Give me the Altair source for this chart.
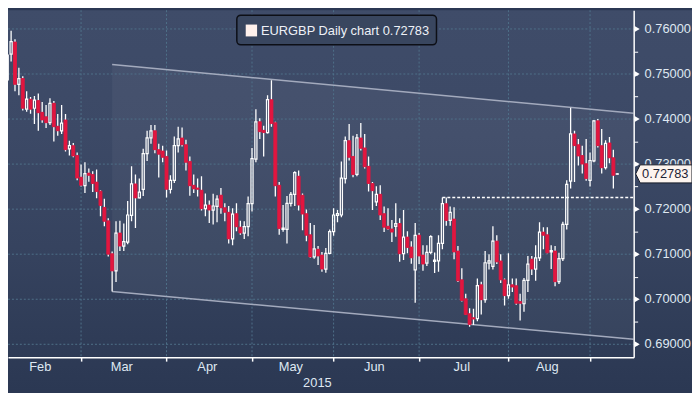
import altair as alt
import pandas as pd

# ---------------- data ----------------
opens = [0.7517, 0.7487, 0.7544, 0.7571, 0.7477, 0.7490, 0.7422, 0.7444, 0.7424, 0.7441,
         0.7415, 0.7405, 0.7392, 0.7435, 0.7384, 0.7374, 0.7398, 0.7334, 0.7341, 0.7319,
         0.7271, 0.7252, 0.7280, 0.7277, 0.7260, 0.7240, 0.7204, 0.7174, 0.7101, 0.7063,
         0.7147, 0.7118, 0.7127, 0.7186, 0.7256, 0.7225, 0.7244, 0.7323, 0.7358, 0.7374,
         0.7332, 0.7329, 0.7317, 0.7244, 0.7264, 0.7341, 0.7358, 0.7343, 0.7306, 0.7253,
         0.7247, 0.7242, 0.7201, 0.7209, 0.7198, 0.7206, 0.7231, 0.7203, 0.7193, 0.7134,
         0.7190, 0.7160, 0.7147, 0.7161, 0.7212, 0.7311, 0.7394, 0.7375, 0.7370, 0.7443,
         0.7392, 0.7253, 0.7155, 0.7155, 0.7213, 0.7233, 0.7273, 0.7231, 0.7190, 0.7143,
         0.7094, 0.7111, 0.7098, 0.7067, 0.7102, 0.7150, 0.7186, 0.7187, 0.7268, 0.7352,
         0.7317, 0.7277, 0.7358, 0.7336, 0.7295, 0.7257, 0.7216, 0.7233, 0.7190, 0.7162,
         0.7156, 0.7162, 0.7168, 0.7101, 0.7138, 0.7116, 0.7065, 0.7142, 0.7098, 0.7080,
         0.7104, 0.7084, 0.7085, 0.7124, 0.7212, 0.7175, 0.7178, 0.7107, 0.7043, 0.7001,
         0.6968, 0.6959, 0.6957, 0.7032, 0.6999, 0.7080, 0.7073, 0.7129, 0.7085, 0.7043,
         0.7008, 0.7032, 0.7030, 0.6995, 0.6990, 0.7042, 0.7089, 0.7067, 0.7092, 0.7149,
         0.7143, 0.7105, 0.7107, 0.7039, 0.7090, 0.7166, 0.7262, 0.7367, 0.7343, 0.7319,
         0.7301, 0.7264, 0.7307, 0.7396, 0.7341, 0.7292, 0.7347, 0.7314, 0.72775]
highs = [0.7528, 0.7568, 0.7596, 0.7577, 0.7514, 0.7495, 0.7462, 0.7449, 0.7451, 0.7457,
         0.7438, 0.7431, 0.7446, 0.7440, 0.7411, 0.7431, 0.7411, 0.7352, 0.7347, 0.7326,
         0.7299, 0.7304, 0.7290, 0.7284, 0.7288, 0.7242, 0.7223, 0.7180, 0.7106, 0.7173,
         0.7174, 0.7168, 0.7218, 0.7295, 0.7277, 0.7268, 0.7334, 0.7374, 0.7387, 0.7387,
         0.7345, 0.7341, 0.7330, 0.7275, 0.7361, 0.7383, 0.7381, 0.7354, 0.7317, 0.7277,
         0.7268, 0.7273, 0.7235, 0.7219, 0.7234, 0.7231, 0.7247, 0.7213, 0.7207, 0.7202,
         0.7213, 0.7174, 0.7173, 0.7228, 0.7336, 0.7422, 0.7402, 0.7385, 0.7453, 0.7486,
         0.7394, 0.7260, 0.7209, 0.7229, 0.7238, 0.7284, 0.7286, 0.7235, 0.7199, 0.7169,
         0.7165, 0.7118, 0.7105, 0.7114, 0.7155, 0.7202, 0.7198, 0.7306, 0.7361, 0.7389,
         0.7363, 0.7367, 0.7391, 0.7367, 0.7317, 0.7260, 0.7251, 0.7253, 0.7206, 0.7202,
         0.7176, 0.7213, 0.7180, 0.7198, 0.7151, 0.7129, 0.7169, 0.7147, 0.7120, 0.7120,
         0.7142, 0.7104, 0.7142, 0.7226, 0.7226, 0.7206, 0.7204, 0.7118, 0.7069, 0.7012,
         0.6980, 0.6979, 0.7046, 0.7039, 0.7107, 0.7100, 0.7162, 0.7142, 0.7100, 0.7046,
         0.7102, 0.7046, 0.7046, 0.7012, 0.7047, 0.7096, 0.7096, 0.7120, 0.7171, 0.7160,
         0.7160, 0.7120, 0.7118, 0.7103, 0.7172, 0.7264, 0.7425, 0.7374, 0.7356, 0.7341,
         0.7356, 0.7326, 0.7398, 0.7400, 0.7378, 0.7353, 0.7360, 0.7332, 0.72795]
lows = [0.7492, 0.7484, 0.7528, 0.7462, 0.7453, 0.7419, 0.7416, 0.7412, 0.7389, 0.7374,
        0.7392, 0.7380, 0.7387, 0.7350, 0.7363, 0.7367, 0.7328, 0.7319, 0.7315, 0.7264,
        0.7250, 0.7236, 0.7261, 0.7238, 0.7224, 0.7184, 0.7162, 0.7095, 0.7017, 0.7038,
        0.7107, 0.7107, 0.7122, 0.7173, 0.7158, 0.7224, 0.7229, 0.7307, 0.7345, 0.7324,
        0.7270, 0.7304, 0.7226, 0.7235, 0.7258, 0.7326, 0.7339, 0.7286, 0.7230, 0.7236,
        0.7228, 0.7197, 0.7184, 0.7169, 0.7166, 0.7171, 0.7190, 0.7173, 0.7124, 0.7120,
        0.7151, 0.7143, 0.7134, 0.7140, 0.7195, 0.7304, 0.7356, 0.7317, 0.7368, 0.7383,
        0.7228, 0.7143, 0.7150, 0.7124, 0.7206, 0.7207, 0.7197, 0.7153, 0.7129, 0.7092,
        0.7090, 0.7076, 0.7061, 0.7059, 0.7100, 0.7141, 0.7171, 0.7182, 0.7257, 0.7308,
        0.7271, 0.7273, 0.7330, 0.7290, 0.7239, 0.7198, 0.7207, 0.7176, 0.7149, 0.7154,
        0.7127, 0.7139, 0.7083, 0.7087, 0.7102, 0.7079, 0.6992, 0.7078, 0.7063, 0.7074,
        0.7100, 0.7058, 0.7061, 0.7111, 0.7163, 0.7163, 0.7089, 0.7038, 0.6995, 0.6965,
        0.6939, 0.6943, 0.6951, 0.6966, 0.6992, 0.7066, 0.7066, 0.7078, 0.7036, 0.6986,
        0.7001, 0.7016, 0.6988, 0.6953, 0.6972, 0.7016, 0.7054, 0.7041, 0.7085, 0.7111,
        0.7102, 0.7067, 0.7029, 0.7034, 0.7085, 0.7155, 0.7246, 0.7260, 0.7297, 0.7279,
        0.7263, 0.7250, 0.7304, 0.7337, 0.7279, 0.7288, 0.7302, 0.7246, 0.72765]
closes = [0.7498, 0.7542, 0.7572, 0.7477, 0.7490, 0.7424, 0.7444, 0.7422, 0.7442, 0.7414,
          0.7398, 0.7392, 0.7435, 0.7383, 0.7374, 0.7391, 0.7332, 0.7341, 0.7318, 0.7269,
          0.7253, 0.7279, 0.7275, 0.7257, 0.7239, 0.7208, 0.7173, 0.7100, 0.7063, 0.7147,
          0.7118, 0.7128, 0.7187, 0.7256, 0.7225, 0.7238, 0.7323, 0.7358, 0.7374, 0.7332,
          0.7322, 0.7315, 0.7244, 0.7264, 0.7341, 0.7356, 0.7343, 0.7304, 0.7252, 0.7245,
          0.7244, 0.7201, 0.7209, 0.7198, 0.7207, 0.7222, 0.7203, 0.7193, 0.7134, 0.7189,
          0.7161, 0.7147, 0.7161, 0.7212, 0.7312, 0.7394, 0.7372, 0.7370, 0.7443, 0.7390,
          0.7252, 0.7157, 0.7158, 0.7213, 0.7233, 0.7281, 0.7209, 0.7189, 0.7142, 0.7094,
          0.7112, 0.7096, 0.7067, 0.7102, 0.7150, 0.7187, 0.7190, 0.7269, 0.7352, 0.7315,
          0.7277, 0.7358, 0.7335, 0.7294, 0.7257, 0.7241, 0.7233, 0.7187, 0.7160, 0.7156,
          0.7149, 0.7168, 0.7101, 0.7138, 0.7115, 0.7092, 0.7142, 0.7096, 0.7078, 0.7104,
          0.7139, 0.7087, 0.7124, 0.7212, 0.7175, 0.7193, 0.7105, 0.7041, 0.6997, 0.6966,
          0.6944, 0.6956, 0.7030, 0.6999, 0.7081, 0.7085, 0.7129, 0.7083, 0.7043, 0.7008,
          0.7032, 0.7027, 0.6991, 0.6991, 0.7042, 0.7078, 0.7067, 0.7092, 0.7149, 0.7142,
          0.7103, 0.7108, 0.7039, 0.7090, 0.7166, 0.7255, 0.7367, 0.7341, 0.7318, 0.7300,
          0.7268, 0.7308, 0.7396, 0.7341, 0.7292, 0.7346, 0.7314, 0.7275, 0.72783]

month_names = ["Feb", "Mar", "Apr", "May", "Jun", "Jul", "Aug"]
month_starts = [0, 20, 42, 64, 85, 107, 130, 151]      # trading-day index of 1st day
year_label = "2015"
y_ticks = [0.69, 0.70, 0.71, 0.72, 0.73, 0.74, 0.75, 0.76]
y_minor = [0.695, 0.705, 0.715, 0.725, 0.735, 0.745, 0.755]
last_price = 0.72783
legend_text = "EURGBP Daily chart 0.72783"

channel_x = [28, 162.23]
channel_upper = [0.7521, 0.7413]
channel_lower = [0.7017, 0.6911]
breakout_x = [113, 162.23]
breakout_level = 0.7226

# ---------------- layout ----------------
W, H = 633, 351
X_DOM = [1.2, 162.23]
Y_DOM = [0.68714, 0.76416]
FONT = "Liberation Sans"
RED = "#e2163f"
GRID = "#4f7089"
LABEL = "#dfe8f2"

xs = alt.Scale(domain=X_DOM, nice=False, zero=False)
ys = alt.Scale(domain=Y_DOM, nice=False, zero=False)

x_axis = alt.Axis(values=month_starts[1:], labels=False, grid=False, ticks=True,
                  tickSize=4, tickColor="white", domainColor="white", domainWidth=1.5,
                  tickWidth=1.5, title=None, zindex=1)
y_axis = alt.Axis(orient="right", values=y_ticks + y_minor, labels=False, grid=False,
                  ticks=True, tickSize=4, tickColor="white", domainColor="white",
                  domainWidth=1.5, title=None, zindex=1)


def X(field, **kw):
    return alt.X(field, type="quantitative", scale=xs, axis=x_axis, **kw)


def Y(field, **kw):
    return alt.Y(field, type="quantitative", scale=ys, axis=y_axis, **kw)


n = len(opens)
df = pd.DataFrame({"i": list(range(n)), "o": opens, "h": highs, "l": lows, "c": closes})
df["top"] = df[["o", "c"]].max(axis=1)
df["bot"] = df[["o", "c"]].min(axis=1)
up = df[df["c"] >= df["o"]].copy()
down = df[df["c"] < df["o"]].copy()
up["x0"] = up["i"] - 0.27
up["x1"] = up["i"] + 0.27
down["x0"] = down["i"] - 0.39
down["x1"] = down["i"] + 0.39

# background gradient
bg = alt.Chart(pd.DataFrame({"a": [0]})).mark_rect(
    fill=alt.LinearGradient(
        gradient="linear", x1=0, x2=0, y1=0, y2=1,
        stops=[alt.GradientStop(color="#3f4c69", offset=0),
               alt.GradientStop(color="#3c4966", offset=0.33),
               alt.GradientStop(color="#36435f", offset=0.62),
               alt.GradientStop(color="#2f3c57", offset=0.86),
               alt.GradientStop(color="#2b3853", offset=1)])
).encode(x=alt.value(0), x2=alt.value(W + 59), y=alt.value(0), y2=alt.value(H + 34))

chan_df = pd.DataFrame({"x": channel_x, "u": channel_upper, "lo": channel_lower})
chan_fill = alt.Chart(chan_df).mark_area(color="white", opacity=0.045, clip=True).encode(
    x=X("x"), y=Y("u"), y2="lo")

hgrid = alt.Chart(pd.DataFrame({"v": y_ticks})).mark_rule(
    color=GRID, strokeDash=[2, 2], strokeWidth=1).encode(
    y=Y("v"), x=alt.value(0), x2=alt.value(W))
vgrid = alt.Chart(pd.DataFrame({"m": month_starts[1:]})).mark_rule(
    color=GRID, strokeDash=[2, 2], strokeWidth=1).encode(
    x=X("m"), y=alt.value(0), y2=alt.value(H))

up_line = alt.Chart(chan_df).mark_line(color="#a3aabd", strokeWidth=1.5, clip=True).encode(
    x=X("x"), y=Y("u"))
lo_line = alt.Chart(chan_df).mark_line(color="#a3aabd", strokeWidth=1.5, clip=True).encode(
    x=X("x"), y=Y("lo"))

brk = alt.Chart(pd.DataFrame({"x": breakout_x, "v": [breakout_level] * 2})).mark_line(
    color="white", strokeDash=[3, 2], strokeWidth=1.5, clip=True).encode(x=X("x"), y=Y("v"))

wick_hi = alt.Chart(df).mark_rule(color="white", strokeWidth=1.3, clip=True).encode(
    x=X("i"), y=Y("h"), y2="top")
wick_lo = alt.Chart(df).mark_rule(color="white", strokeWidth=1.3, clip=True).encode(
    x=X("i"), y=Y("bot"), y2="l")
body_up = alt.Chart(up).mark_rect(stroke="white", strokeWidth=1.25, fillOpacity=0,
                                  clip=True).encode(
    x=X("x0"), x2="x1", y=Y("bot"), y2="top")
body_dn = alt.Chart(down).mark_rect(stroke=RED, fill=RED, strokeWidth=0.8, clip=True).encode(
    x=X("x0"), x2="x1", y=Y("bot"), y2="top")

# y labels and tick markers
ylab = alt.Chart(pd.DataFrame({"v": y_ticks})).mark_text(
    align="left", baseline="middle", font=FONT, fontSize=13, color=LABEL).encode(
    y=Y("v"), x=alt.value(W + 11), text=alt.Text("v:Q", format=".5f"))
ytri = alt.Chart(pd.DataFrame({"v": y_ticks})).mark_point(
    shape="triangle-right", filled=True, size=36, color="white", opacity=1).encode(
    y=Y("v"), x=alt.value(W + 3.5))

# month labels
mids = [(month_starts[k] + month_starts[k + 1] - 1) / 2 for k in range(len(month_names))]
mlab = alt.Chart(pd.DataFrame({"m": mids, "t": month_names})).mark_text(
    baseline="middle", font=FONT, fontSize=13, color=LABEL).encode(
    x=X("m"), y=alt.value(H + 10), text="t")
ylbl = alt.Chart(pd.DataFrame({"t": [year_label]})).mark_text(
    baseline="middle", font=FONT, fontSize=13, color=LABEL).encode(
    x=alt.value(313), y=alt.value(H + 26), text="t")

# legend box
leg_box = alt.Chart(pd.DataFrame({"a": [0]})).mark_rect(
    fill="#39465f", stroke="#0d0f16", strokeWidth=1.5, cornerRadius=4).encode(
    x=alt.value(231.5), x2=alt.value(433.5), y=alt.value(5), y2=alt.value(35))
leg_sq = alt.Chart(pd.DataFrame({"a": [0]})).mark_rect(fill="#fff1ec").encode(
    x=alt.value(240.5), x2=alt.value(252), y=alt.value(14.5), y2=alt.value(26.5))
leg_txt = alt.Chart(pd.DataFrame({"t": [legend_text]})).mark_text(
    align="left", baseline="middle", font=FONT, fontSize=13, color="#eef1f7").encode(
    x=alt.value(256), y=alt.value(21), text="t")

# last price tag
tag_df = pd.DataFrame({"v": [last_price], "t": [f"{last_price:.5f}"]})
tag = alt.Chart(tag_df).mark_point(
    shape="M -1 0 L -0.84 -0.32 L 1 -0.32 L 1 0.32 L -0.84 0.32 Z",
    filled=True, fill="#fdf4ef", stroke="#151a26", strokeWidth=1, size=3249,
    opacity=1).encode(y=Y("v"), x=alt.value(W + 30.5))
tag_txt = alt.Chart(tag_df).mark_text(
    align="center", baseline="middle", font=FONT, fontSize=13, color="#1d2234").encode(
    y=Y("v"), x=alt.value(W + 32), text="t")

chart = alt.layer(
    bg, chan_fill, hgrid, vgrid, up_line, lo_line, brk,
    wick_hi, wick_lo, body_up, body_dn,
    ylab, ytri, mlab, ylbl, leg_box, leg_sq, leg_txt, tag, tag_txt
).properties(
    width=W, height=H,
    autosize=alt.AutoSizeParams(type="none"),
    padding={"left": 0, "top": 0, "right": 59, "bottom": 34},
    background="#2b3853",
).configure_view(stroke=None)

chart.save("out.html", embed_options={"renderer": "svg", "actions": False})
